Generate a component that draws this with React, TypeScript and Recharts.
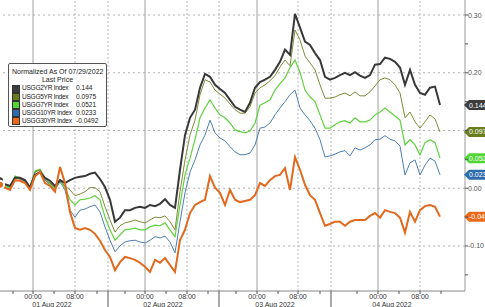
import { LineChart, Line, XAxis, YAxis, ReferenceLine, ReferenceDot } from 'recharts';

// normalized yield change vs 07/29/2022 close, one sample per slot
const usgg2yr = [
  0.014, 0.007, 0.004, 0.018, 0.018, 0.014, 0.001, 0.023, 0.028, 0.018,
  0.013, 0.004, 0.014, 0.009, 0.014, 0.018, 0.020, 0.021, 0.025, 0.027,
  0.016, 0.002, -0.020, -0.058, -0.051, -0.038, -0.038, -0.034, -0.032, -0.034,
  -0.029, -0.031, -0.027, -0.019, -0.029, -0.034, 0.032, 0.092, 0.122, 0.136,
  0.174, 0.198, 0.193, 0.179, 0.172, 0.165, 0.153, 0.141, 0.136, 0.132,
  0.148, 0.174, 0.184, 0.188, 0.193, 0.205, 0.219, 0.240, 0.231, 0.302,
  0.278, 0.254, 0.248, 0.234, 0.222, 0.193, 0.188, 0.191, 0.196, 0.200,
  0.196, 0.201, 0.195, 0.191, 0.196, 0.214, 0.215, 0.226, 0.224, 0.219,
  0.209, 0.179, 0.205, 0.179, 0.165, 0.162, 0.174, 0.176, 0.144,
];
const usgg5yr = [
  0.011, 0.006, 0.002, 0.020, 0.016, 0.013, 0.004, 0.028, 0.032, 0.016,
  0.009, 0.001, 0.013, 0.004, -0.003, -0.013, -0.010, -0.006, 0.001, 0.001,
  -0.006, -0.032, -0.055, -0.076, -0.065, -0.060, -0.058, -0.055, -0.058, -0.060,
  -0.055, -0.050, -0.051, -0.048, -0.058, -0.072, -0.006, 0.049, 0.092, 0.118,
  0.162, 0.188, 0.184, 0.170, 0.163, 0.156, 0.146, 0.136, 0.130, 0.130,
  0.141, 0.165, 0.174, 0.179, 0.186, 0.195, 0.210, 0.222, 0.212, 0.274,
  0.257, 0.229, 0.217, 0.205, 0.179, 0.156, 0.156, 0.158, 0.162, 0.165,
  0.160, 0.167, 0.160, 0.160, 0.167, 0.177, 0.188, 0.191, 0.188, 0.179,
  0.165, 0.122, 0.132, 0.115, 0.104, 0.115, 0.127, 0.120, 0.0975,
];
const usgg7yr = [
  0.013, 0.004, 0.001, 0.021, 0.018, 0.013, 0.002, 0.030, 0.033, 0.018,
  0.007, -0.001, 0.014, 0.001, -0.020, -0.029, -0.020, -0.019, -0.017, -0.013,
  -0.020, -0.050, -0.072, -0.090, -0.081, -0.072, -0.071, -0.069, -0.072, -0.072,
  -0.067, -0.064, -0.065, -0.060, -0.072, -0.084, -0.029, 0.023, 0.052, 0.084,
  0.122, 0.139, 0.153, 0.139, 0.127, 0.122, 0.113, 0.101, 0.098, 0.096,
  0.099, 0.113, 0.144, 0.148, 0.153, 0.170, 0.181, 0.191, 0.209, 0.222,
  0.201, 0.170, 0.158, 0.150, 0.127, 0.104, 0.104, 0.110, 0.115, 0.117,
  0.113, 0.122, 0.115, 0.115, 0.118, 0.127, 0.132, 0.139, 0.132, 0.125,
  0.118, 0.075, 0.084, 0.075, 0.058, 0.079, 0.084, 0.079, 0.0521,
];
const usgg10yr = [
  0.009, 0.004, -0.001, 0.018, 0.016, 0.011, -0.001, 0.028, 0.032, 0.014,
  0.006, -0.003, 0.011, -0.003, -0.038, -0.050, -0.038, -0.036, -0.032, -0.029,
  -0.041, -0.067, -0.090, -0.110, -0.100, -0.093, -0.091, -0.090, -0.093, -0.095,
  -0.090, -0.084, -0.086, -0.083, -0.093, -0.112, -0.058, -0.008, 0.028, 0.049,
  0.075, 0.092, 0.118, 0.096, 0.087, 0.082, 0.072, 0.063, 0.058, 0.058,
  0.061, 0.075, 0.104, 0.106, 0.113, 0.127, 0.139, 0.150, 0.162, 0.170,
  0.139, 0.127, 0.117, 0.104, 0.084, 0.054, 0.056, 0.059, 0.063, 0.065,
  0.056, 0.070, 0.066, 0.070, 0.075, 0.084, 0.085, 0.091, 0.085, 0.082,
  0.073, 0.023, 0.044, 0.049, 0.023, 0.040, 0.052, 0.047, 0.0233,
];
const usgg30yr = [
  0.006, 0.001, -0.003, 0.014, 0.013, 0.009, -0.003, 0.021, 0.028, 0.009,
  0.004, -0.006, 0.037, 0.009, -0.041, -0.069, -0.072, -0.069, -0.072, -0.079,
  -0.091, -0.107, -0.119, -0.142, -0.128, -0.119, -0.121, -0.124, -0.129, -0.136,
  -0.145, -0.124, -0.129, -0.121, -0.133, -0.145, -0.090, -0.072, -0.043, -0.029,
  -0.024, -0.020, 0.021, 0.001, -0.008, -0.029, -0.003, -0.020, -0.024, -0.022,
  -0.020, -0.012, 0.009, 0.004, 0.014, 0.021, 0.023, 0.035, -0.003, 0.054,
  0.032, 0.006, -0.012, -0.020, -0.043, -0.065, -0.062, -0.058, -0.058, -0.065,
  -0.058, -0.055, -0.055, -0.055, -0.048, -0.043, -0.051, -0.038, -0.041, -0.043,
  -0.051, -0.077, -0.041, -0.058, -0.038, -0.031, -0.029, -0.032, -0.0492,
];

// x axis positions in sample slots
const HOUR_TICKS = [2.6, 6.6, 10.8, 15, 19.4, 25, 29, 33.2, 37.4, 41.6, 47.2, 51.4, 55.6, 59.6, 64, 71.4, 75.6, 79.8, 84, 88.2];
const MIDNIGHTS = [6.6, 29, 51.4, 75.6];
const MORNINGS = [15, 37.4, 59.6, 84];
const SESSION_BREAKS = [21.6, 43.8, 66.2];
const DAY_CENTERS = [10.4, 32.6, 55, 78.4];
const DAY_LABELS = ['01 Aug 2022', '02 Aug 2022', '03 Aug 2022', '04 Aug 2022'];
const Y_TICKS = [-0.15, -0.1, -0.05, 0, 0.05, 0.1, 0.15, 0.2, 0.25, 0.3];
const Y_LABELS = [-0.1, 0, 0.2, 0.3]; // 0.10 sits under the 5YR badge
const Y_GRID = [-0.1, 0, 0.1, 0.2, 0.3];

const X_MAX = 93;
const FONT = '"Liberation Sans", Arial, sans-serif';

const series = [
  { key: 'usgg10yr', name: 'USGG10YR Index', values: usgg10yr, color: '#4f7fb2', width: 1 },
  { key: 'usgg7yr', name: 'USGG7YR Index', values: usgg7yr, color: '#5fd23e', width: 1.2 },
  { key: 'usgg5yr', name: 'USGG5YR Index', values: usgg5yr, color: '#818a3a', width: 1 },
  { key: 'usgg2yr', name: 'USGG2YR Index', values: usgg2yr, color: '#383838', width: 2 },
  { key: 'usgg30yr', name: 'USGG30YR Index', values: usgg30yr, color: '#e2691e', width: 2 },
];
const legendOrder = ['usgg2yr', 'usgg5yr', 'usgg7yr', 'usgg10yr', 'usgg30yr'];
const badgeColors: Record<string, string> = {
  usgg2yr: '#3c3c3c',
  usgg5yr: '#6a7d1c',
  usgg7yr: '#52d636',
  usgg10yr: '#2f6cae',
  usgg30yr: '#ea6a1a',
};

const data = usgg2yr.map((_, i) => {
  const row: Record<string, number> = { slot: i };
  series.forEach((s) => { row[s.key] = s.values[i]; });
  return row;
});

const XTick = (props: any) => {
  const { x, y, payload } = props;
  const v = payload.value;
  const style = { fontFamily: FONT, fontSize: 7, fill: '#333' };
  if (SESSION_BREAKS.includes(v)) {
    return <line x1={x} x2={x} y1={y} y2={y + 16} stroke="#555" />;
  }
  const d = DAY_CENTERS.indexOf(v);
  if (d >= 0) {
    return <text x={x} y={y + 16} textAnchor="middle" {...style}>{DAY_LABELS[d]}</text>;
  }
  let label = '';
  if (MIDNIGHTS.includes(v)) label = '00:00';
  if (MORNINGS.includes(v)) label = '08:00';
  return (
    <g>
      <line x1={x} x2={x} y1={y} y2={y + 3} stroke="#555" />
      {label && <text x={x} y={y + 8} textAnchor="middle" {...style}>{label}</text>}
    </g>
  );
};

const YTick = (props: any) => {
  const { x, y, payload } = props;
  const v = payload.value;
  const shown = Y_LABELS.some((l) => Math.abs(l - v) < 1e-6);
  return (
    <g>
      <line x1={x} x2={x + 3} y1={y} y2={y} stroke="#555" />
      {shown && (
        <text x={x + 3} y={y + 2.5} fontFamily={FONT} fontSize={7} fill="#555">
          {v.toFixed(2)}
        </text>
      )}
    </g>
  );
};

const Badge = (props: any) => {
  const { cx, cy, fill, label } = props;
  const x0 = cx - 1;
  return (
    <g>
      <path
        d={`M${x0},${cy} L${x0 + 5},${cy - 5} L${x0 + 30},${cy - 5} L${x0 + 30},${cy + 5} L${x0 + 5},${cy + 5} Z`}
        fill={fill}
      />
      <text x={x0 + 5} y={cy + 2.5} fontFamily={FONT} fontSize={7} fill="#fff">{label}</text>
    </g>
  );
};

const LegendBox = () => (
  <div
    style={{
      position: 'absolute', left: 8, top: 63, width: 99, height: 64,
      border: '1px solid #555', borderRadius: 2, background: '#fff',
      fontFamily: FONT, fontSize: 7, lineHeight: '8.2px', color: '#222',
      padding: '4px 0 0 3px', boxSizing: 'border-box', whiteSpace: 'nowrap',
    }}
  >
    <div style={{ textAlign: 'center', paddingRight: 3 }}>Normalized As Of 07/29/2022</div>
    <div style={{ textAlign: 'center', paddingRight: 3 }}>Last Price</div>
    {legendOrder.map((k) => {
      const s = series.find((x) => x.key === k)!;
      const last = s.values[s.values.length - 1];
      return (
        <div key={k} style={{ display: 'flex', alignItems: 'center', fontSize: 6.6 }}>
          <span style={{ flex: 'none', width: 6, height: 6, background: badgeColors[k], border: '0.5px solid #333', marginRight: 2 }} />
          <span style={{ flex: 'none', width: 54, letterSpacing: -0.3 }}>{s.name}</span>
          <span style={{ flex: 'none' }}>{String(last)}</span>
        </div>
      );
    })}
  </div>
);

export default function App() {
  return (
    <div style={{ position: 'absolute', left: 0, top: 0, width: 485, height: 307, background: '#fff', overflow: 'hidden' }}>
      <LineChart width={485} height={307} data={data} margin={{ top: 0, right: 0, bottom: 0, left: 0 }}>
        <XAxis
          type="number"
          dataKey="slot"
          domain={[0, X_MAX]}
          ticks={[...HOUR_TICKS, ...SESSION_BREAKS, ...DAY_CENTERS]}
          interval={0}
          height={16}
          tickSize={0}
          tickMargin={0}
          tickLine={false}
          axisLine={{ stroke: '#888' }}
          tick={<XTick />}
          allowDataOverflow
        />
        <YAxis
          orientation="right"
          type="number"
          width={20}
          domain={[-0.178, 0.326]}
          ticks={Y_TICKS}
          interval={0}
          tickSize={0}
          tickMargin={0}
          tickLine={false}
          axisLine={{ stroke: '#999' }}
          tick={<YTick />}
          allowDataOverflow
        />
        {Y_GRID.map((v) => (
          <ReferenceLine key={`h${v}`} y={v} stroke="#b0b0b0" strokeDasharray="2 3" />
        ))}
        {MIDNIGHTS.map((v) => (
          <ReferenceLine key={`m${v}`} x={v} stroke="#a0a0a0" />
        ))}
        {[...MORNINGS, ...SESSION_BREAKS].map((v) => (
          <ReferenceLine key={`d${v}`} x={v} stroke="#b8b8b8" strokeDasharray="2 2" />
        ))}
        {series.map((s) => (
          <Line
            key={s.key}
            type="linear"
            dataKey={s.key}
            name={s.name}
            stroke={s.color}
            strokeWidth={s.width}
            dot={false}
            isAnimationActive={false}
          />
        ))}
        {legendOrder.map((k) => {
          const s = series.find((x) => x.key === k)!;
          const last = s.values[s.values.length - 1];
          return (
            <ReferenceDot
              key={`b${k}`}
              x={X_MAX}
              y={last}
              ifOverflow="visible"
              shape={(p: any) => <Badge {...p} fill={badgeColors[k]} label={String(last)} />}
            />
          );
        })}
      </LineChart>
      <LegendBox />
    </div>
  );
}
